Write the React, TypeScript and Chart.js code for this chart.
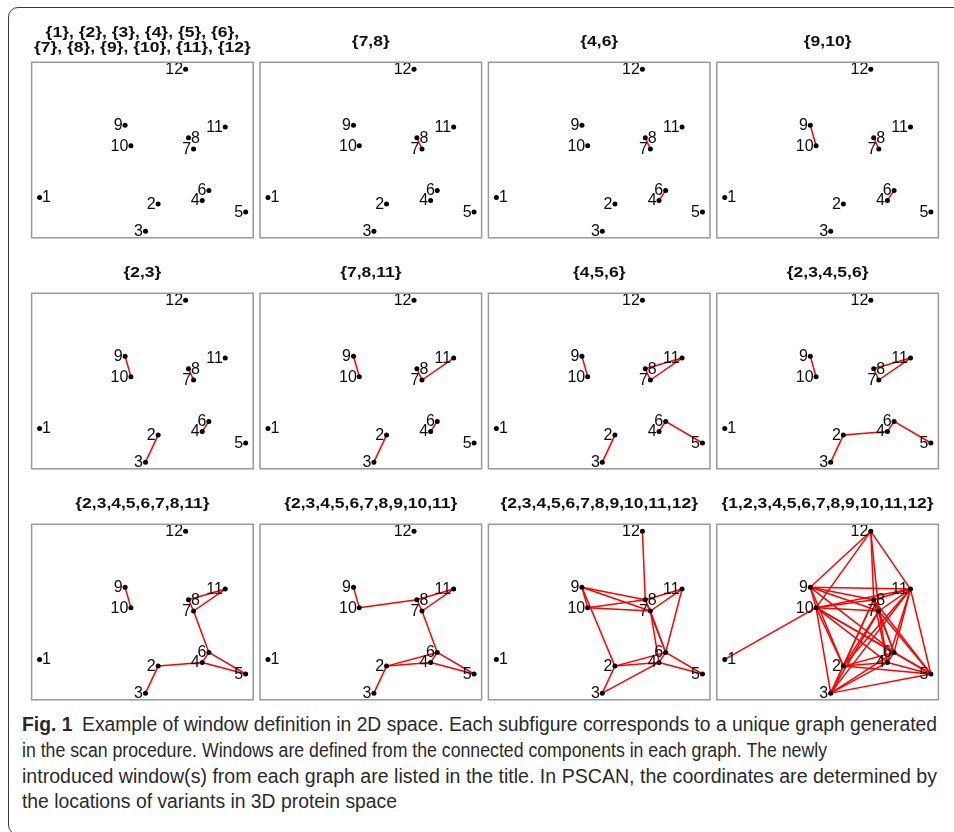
import React, { useEffect, useLayoutEffect, useRef } from "react";
import { Chart, registerables } from "chart.js";

Chart.register(...registerables);

// ---------- data ----------
const nodeIds = [1, 2, 3, 4, 5, 6, 7, 8, 9, 10, 11, 12];
const nodeX = [3.6, 57.1, 51.4, 77.0, 96.6, 80.0, 73.1, 70.8, 42.2, 44.8, 87.4, 69.5];
const nodeY = [23.0, 19.2, 3.8, 21.3, 14.7, 27.0, 50.6, 57.0, 64.1, 52.5, 63.1, 96.0];
const labelSide = ["right", "left", "left", "left", "left", "left", "left", "right", "left", "left", "left", "left"];

const panelTitles: (string | string[])[] = [
  ["{1}, {2}, {3}, {4}, {5}, {6},", "{7}, {8}, {9}, {10}, {11}, {12}"],
  "{7,8}",
  "{4,6}",
  "{9,10}",
  "{2,3}",
  "{7,8,11}",
  "{4,5,6}",
  "{2,3,4,5,6}",
  "{2,3,4,5,6,7,8,11}",
  "{2,3,4,5,6,7,8,9,10,11}",
  "{2,3,4,5,6,7,8,9,10,11,12}",
  "{1,2,3,4,5,6,7,8,9,10,11,12}",
];

// edges newly added in each successive graph (graphs are nested)
const newEdges: [number, number][][] = [
  [],
  [[7, 8]],
  [[4, 6]],
  [[9, 10]],
  [[2, 3]],
  [[7, 11]],
  [[8, 11], [6, 5]],
  [[2, 4]],
  [[7, 6], [4, 5]],
  [[10, 8], [2, 6]],
  [[12, 8], [9, 8], [9, 7], [9, 2], [10, 7], [11, 6], [7, 4], [8, 6], [3, 4]],
  [
    [1, 10], [12, 9], [12, 10], [12, 7], [12, 11], [9, 11], [10, 11], [10, 2], [10, 3],
    [10, 4], [10, 6], [10, 5], [11, 2], [11, 3], [11, 4], [11, 5], [7, 2], [7, 3], [7, 5],
    [8, 2], [8, 3], [8, 4], [8, 5], [2, 5], [3, 6], [3, 5], [9, 6],
  ],
];

const captionLines = [
  "Example of window definition in 2D space. Each subfigure corresponds to a unique graph generated",
  "in the scan procedure. Windows are defined from the connected components in each graph. The newly",
  "introduced window(s) from each graph are listed in the title. In PSCAN, the coordinates are determined by",
  "the locations of variants in 3D protein space",
];
const captionLabel = "Fig. 1";

// ---------- layout ----------
const COL_LEFT = 31.6;
const COL_STEP = 228.4;
const BOX_W = 221.6;
const ROW_TOP = [62.3, 293.3, 524.3];
const BOX_H = 175.5;
const TITLE_FONT = 17.5;
const TITLE_VSCALE = 0.84;
const TITLE_LINE_GAP = 15.3;

const captionWidths = [915, 805, 915, 375];
const captionTops = [724, 750, 776, 801];

function cumulativeEdges(panel: number): [number, number][] {
  const out: [number, number][] = [];
  for (let i = 0; i <= panel; i++) out.push(...newEdges[i]);
  return out;
}

const labelPlugin = {
  id: "nodeLabels",
  afterDatasetsDraw(chart: any) {
    const { ctx, scales } = chart;
    ctx.save();
    ctx.font = "16px 'Liberation Sans', Arial, sans-serif";
    ctx.fillStyle = "#0d0d0d";
    ctx.textBaseline = "middle";
    nodeIds.forEach((id, i) => {
      const px = scales.x.getPixelForValue(nodeX[i]);
      const py = scales.y.getPixelForValue(nodeY[i]);
      if (labelSide[i] === "right") {
        ctx.textAlign = "left";
        ctx.fillText(String(id), px + 2.5, py + 0.5);
      } else {
        ctx.textAlign = "right";
        ctx.fillText(String(id), px - 2.5, py + 0.5);
      }
    });
    ctx.restore();
  },
};

const boxPlugin = {
  id: "boxFrame",
  afterDraw(chart: any) {
    const { ctx, chartArea } = chart;
    ctx.save();
    ctx.strokeStyle = "#999";
    ctx.lineWidth = 1.5;
    ctx.strokeRect(chartArea.left, chartArea.top, chartArea.right - chartArea.left, chartArea.bottom - chartArea.top);
    ctx.restore();
  },
};

const panelTitlePlugin = {
  id: "panelTitle",
  afterDraw(chart: any, _args: any, opts: any) {
    const { ctx, chartArea } = chart;
    const text: string | string[] = opts.text;
    const lines = Array.isArray(text) ? text : [text];
    const cx = (chartArea.left + chartArea.right) / 2;
    const centers =
      lines.length === 1
        ? [chartArea.top - 20.5]
        : [chartArea.top - 29.5, chartArea.top - 29.5 + TITLE_LINE_GAP];
    ctx.save();
    ctx.font = `bold ${TITLE_FONT}px 'Liberation Sans', Arial, sans-serif`;
    ctx.fillStyle = "#111";
    ctx.textAlign = "center";
    ctx.textBaseline = "middle";
    lines.forEach((ln, k) => {
      ctx.save();
      ctx.translate(cx, centers[k]);
      ctx.scale(1, TITLE_VSCALE);
      ctx.fillText(ln, 0, 0);
      ctx.restore();
    });
    ctx.restore();
  },
};

function Panel({ index }: { index: number }) {
  const ref = useRef<HTMLCanvasElement | null>(null);
  const col = index % 4;
  const row = Math.floor(index / 4);
  const boxLeft = COL_LEFT + COL_STEP * col;
  const boxTop = ROW_TOP[row];
  const canvasLeft = Math.floor(boxLeft) - 4;
  const canvasTop = Math.floor(boxTop) - 54;
  const padL = boxLeft - canvasLeft;
  const canvasW = Math.ceil(padL + BOX_W + 4);
  const padR = canvasW - padL - BOX_W;
  const H = boxTop - canvasTop;
  const canvasH = Math.ceil(H + BOX_H + 4);
  const padB = canvasH - H - BOX_H;

  useEffect(() => {
    const title = panelTitles[index];
    const points = nodeIds.map((_, i) => ({ x: nodeX[i], y: nodeY[i] }));
    const edgeSets = cumulativeEdges(index).map(([a, b]) => ({
      type: "scatter" as const,
      data: [
        { x: nodeX[a - 1], y: nodeY[a - 1] },
        { x: nodeX[b - 1], y: nodeY[b - 1] },
      ],
      showLine: true,
      borderColor: "#ff0000",
      borderWidth: 1.5,
      pointRadius: 0,
      pointHoverRadius: 0,
      clip: false as any,
    }));
    const chart = new Chart(ref.current as HTMLCanvasElement, {
      type: "scatter",
      data: {
        datasets: [
          {
            data: points,
            backgroundColor: "#000",
            borderColor: "#000",
            borderWidth: 0,
            pointRadius: 2.5,
            clip: false as any,
          },
          ...edgeSets,
        ] as any,
      },
      options: {
        responsive: false,
        animation: false,
        events: [],
        layout: { padding: { left: padL, right: padR, top: H, bottom: padB } },
        scales: {
          x: { type: "linear", min: 0, max: 100, display: false },
          y: { type: "linear", min: 0, max: 100, display: false },
        },
        plugins: {
          legend: { display: false },
          tooltip: { enabled: false },
          title: { display: false },
          panelTitle: { text: title },
        } as any,
      },
      plugins: [boxPlugin, labelPlugin, panelTitlePlugin],
    });
    return () => chart.destroy();
  }, [index]);

  return (
    <canvas
      ref={ref}
      width={canvasW}
      height={canvasH}
      style={{ position: "absolute", left: canvasLeft, top: canvasTop, width: canvasW, height: canvasH }}
    />
  );
}

function Caption() {
  const refs = useRef<(HTMLSpanElement | null)[]>([]);
  useLayoutEffect(() => {
    refs.current.forEach((el, i) => {
      if (!el) return;
      el.style.transform = "none";
      const w = el.getBoundingClientRect().width;
      if (w > 0) el.style.transform = `scaleX(${captionWidths[i] / w})`;
    });
  }, []);
  return (
    <>
      {captionLines.map((line, i) => (
        <span
          key={i}
          ref={(el) => {
            refs.current[i] = el;
          }}
          style={{
            position: "absolute",
            left: 22,
            top: captionTops[i] - 12,
            display: "inline-block",
            whiteSpace: "nowrap",
            transformOrigin: "left center",
            fontFamily: "'Liberation Sans Narrow', 'Liberation Sans', sans-serif",
            fontSize: 20,
            lineHeight: "24px",
            color: "#2a2a2a",
          }}
        >
          {i === 0 ? (
            <>
              <b>{captionLabel}</b>
              {"\u2002"}
              {line}
            </>
          ) : (
            line
          )}
        </span>
      ))}
    </>
  );
}

export default function App() {
  return (
    <div
      style={{
        position: "fixed",
        left: 0,
        top: 0,
        width: 954,
        height: 832,
        overflow: "hidden",
        background: "#fff",
      }}
    >
      <div
        style={{
          position: "absolute",
          left: 8,
          top: 7,
          width: 1000,
          height: 828,
          border: "1.5px solid #3a3a3a",
          borderRadius: 10,
          boxSizing: "border-box",
        }}
      />
      {panelTitles.map((_, i) => (
        <Panel key={i} index={i} />
      ))}
      <Caption />
    </div>
  );
}
